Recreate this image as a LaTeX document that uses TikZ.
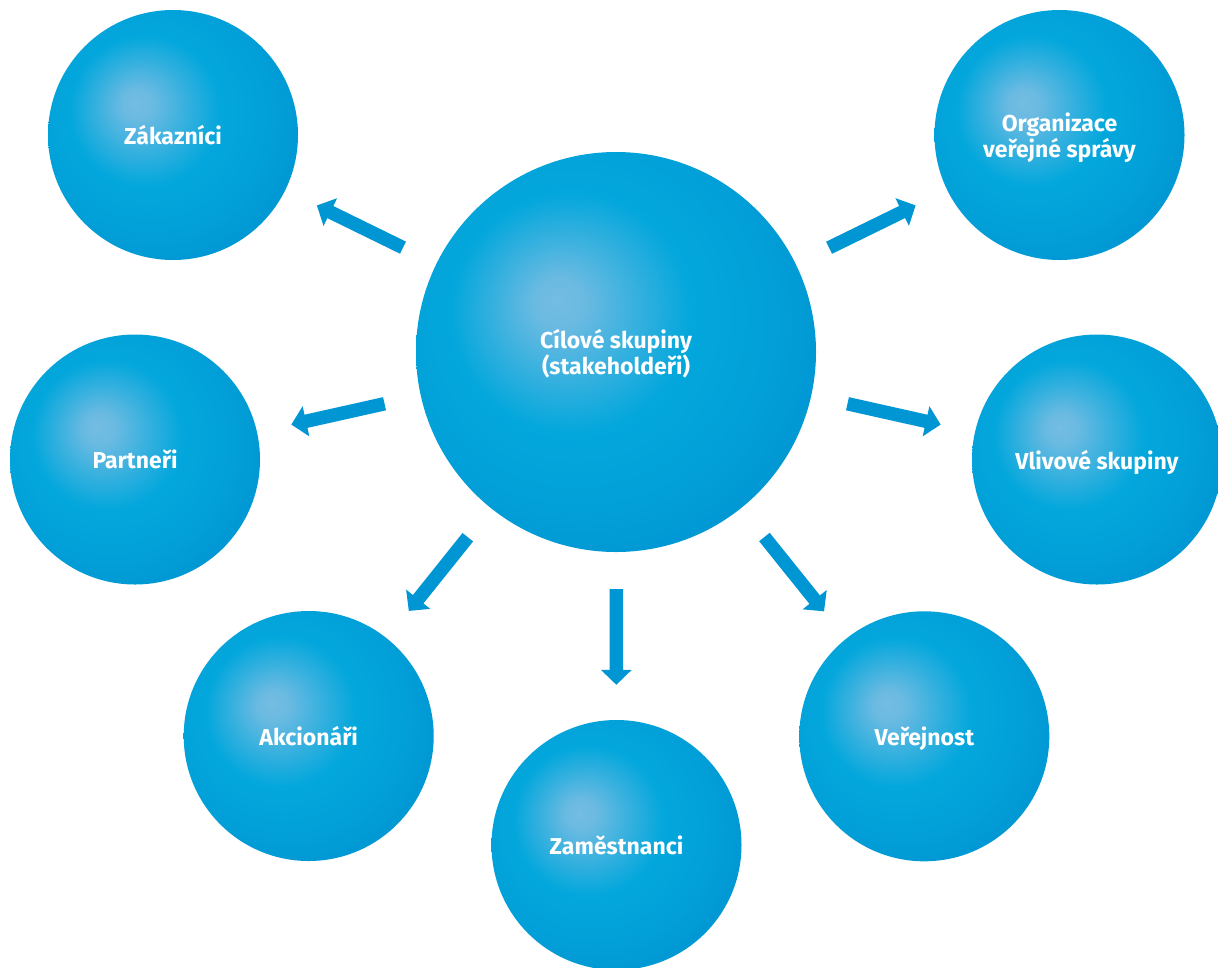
\documentclass[tikz,border=0pt]{standalone}
\usepackage{fontspec}
\newfontfamily\labelfont{Fira Sans}
\usetikzlibrary{arrows.meta}
\definecolor{hl}{HTML}{74BCE2}
\definecolor{midblue}{HTML}{03A7DC}
\definecolor{edgeblue}{HTML}{0092D1}
\definecolor{arrowblue}{HTML}{0096D4}
\pgfdeclareradialshading{sphere}{\pgfpoint{-7.5bp}{6.5bp}}{%
  color(0bp)=(hl);
  color(3bp)=(hl!92!midblue);
  color(9bp)=(hl!45!midblue);
  color(15bp)=(midblue);
  color(23bp)=(midblue!70!edgeblue);
  color(34bp)=(edgeblue);
  color(60bp)=(edgeblue)}
\tikzset{
  ball/.style={circle, inner sep=0pt, shade, shading=sphere, minimum size=250pt,
    text=white, align=center, text depth=0pt,
    font=\labelfont\bfseries\fontsize{23}{26.5}\selectfont},
  bigball/.style={ball, minimum size=400pt},
  blockarrow/.style={draw=arrowblue, line width=13.5pt,
    -{Triangle[width=30pt,length=15pt]},
    shorten <=37pt, shorten >=35pt}
}
\begin{document}
\begin{tikzpicture}[x=1pt,y=-1pt]
\useasboundingbox (0,0) rectangle (1218,967);
\node[bigball] (c) at (616,352) {Cílové skupiny\\(stakeholdeři)};
\node[ball] (zak) at (173,135) {Zákazníci};
\node[ball] (org) at (1059.5,135) {Organizace\\veřejné správy};
\node[ball] (par) at (135,459.5) {Partneři};
\node[ball] (vli) at (1097,459.5) {Vlivové skupiny};
\node[ball] (akc) at (308.7,736) {Akcionáři};
\node[ball] (zam) at (616.5,845) {Zaměstnanci};
\node[ball] (ver) at (924.3,736.3) {Veřejnost};
\foreach \t in {zak,org,par,vli,akc,zam,ver}
  \draw[blockarrow] (c) -- (\t);
\end{tikzpicture}
\end{document}
